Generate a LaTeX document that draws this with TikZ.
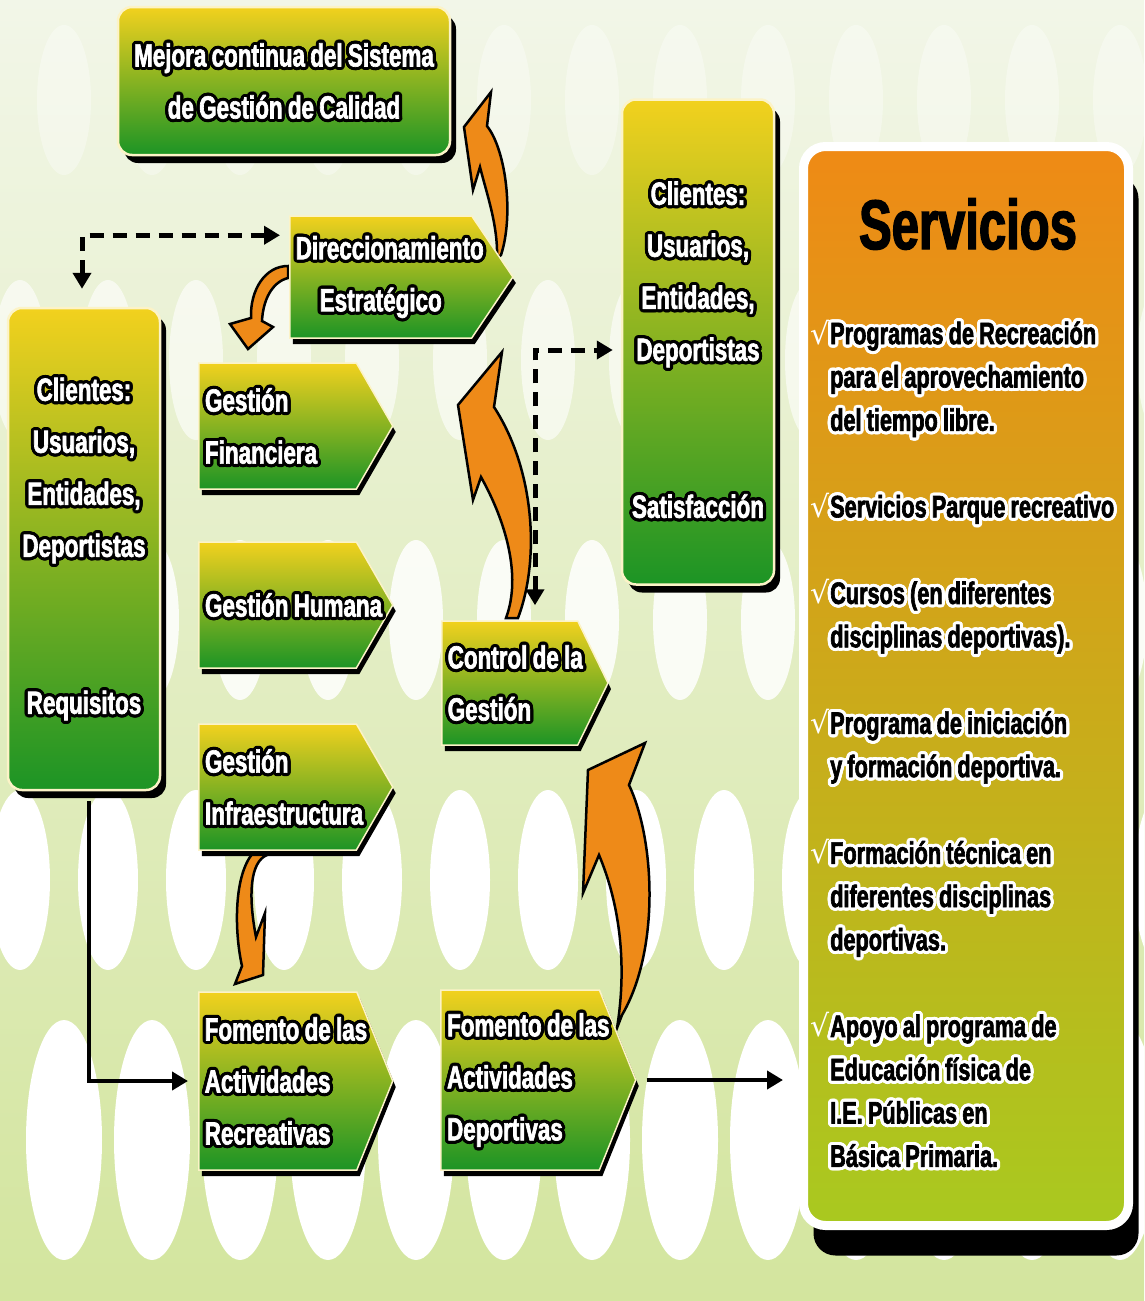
\documentclass[tikz,border=0pt]{standalone}
\usepackage{fontspec}
\usepackage{tikz}
\usetikzlibrary{arrows.meta}
\usetikzlibrary{calc}
\usetikzlibrary{shapes.symbols}
\usetikzlibrary{shadows}

\newfontfamily\cnd[FakeStretch=0.7,FakeBold=2,WordSpace=0.85]{Liberation Sans Bold}
\newfontfamily\chkfont{DejaVu Sans}

\definecolor{bgtop}{HTML}{F2F6E8}
\definecolor{bgmid}{HTML}{E3EDC6}
\definecolor{bgbot}{HTML}{D3E59E}
\definecolor{boxyel}{HTML}{F2D11E}
\definecolor{boxgrn}{HTML}{1C9425}
\definecolor{arrowor}{HTML}{EE8A18}
\definecolor{srvtop}{HTML}{EF8A15}
\definecolor{srvbot}{HTML}{A9C91F}

\newcommand{\boxfont}{\cnd\fontsize{32}{52}\selectfont}
\newcommand{\listfont}{\cnd\fontsize{31}{43.3}\selectfont}
\newcommand{\titlefont}{\cnd\fontsize{70}{70}\selectfont}

% outlined text: #1 outline, #2 fill, #3 text
\newcommand{\outl}[3]{\leavevmode\hbox{\spaceskip=0pt\xspaceskip=0pt\color{#1}%
  \foreach \ang in {0,22.5,...,337.5}{\rlap{\kern\fpeval{3.2*cosd(\ang)}pt\raisebox{\fpeval{3.2*sind(\ang)}pt}{#3}}}%
  \foreach \ang in {11.25,56.25,...,326.25}{\rlap{\kern\fpeval{1.8*cosd(\ang)}pt\raisebox{\fpeval{1.8*sind(\ang)}pt}{#3}}}%
  \textcolor{#2}{#3}}}
\newcommand{\wl}[1]{\outl{black}{white}{#1}}
\newcommand{\bl}[1]{\outl{white}{black}{#1}}
\newcommand{\chk}{\llap{{\chkfont\fontsize{30}{30}\selectfont\color{white}√}\kern1pt}}

\tikzset{
greenbox/.style={rectangle, rounded corners=14pt, top color=boxyel, bottom color=boxgrn,
  draw=white!75!boxyel, line width=2.5pt, text=white, font=\boxfont, align=center,
  drop shadow={shadow xshift=6pt, shadow yshift=-8pt, fill=black, opacity=1}},
greensig/.style={signal, signal to=east, top color=boxyel, bottom color=boxgrn,
  draw=white!75!boxyel, line width=1.5pt, text=white, font=\boxfont, align=left, inner xsep=6pt,
  drop shadow={shadow xshift=3pt, shadow yshift=-6pt, fill=black, opacity=1}},
orarrow/.style={fill=arrowor, draw=black, line width=2.5pt, line join=miter},
dashline/.style={line width=5pt, dash pattern=on 14pt off 9pt,
  {Triangle[length=16pt,width=18pt]}-{Triangle[length=16pt,width=18pt]}},
solidline/.style={line width=4.5pt, -{Triangle[length=16pt,width=18pt]}},
}

\begin{document}
\begin{tikzpicture}[x=1pt, y=-1pt]

                \useasboundingbox (0,0) rectangle (1144,1301);
                \shade[top color=bgtop, middle color=bgmid, bottom color=bgbot] (0,0) rectangle (1144,1301);

                % background pattern
                \begin{scope}
                \clip (0,0) rectangle (1144,1301);
                \foreach \yc/\rx/\ry/\op [count=\r] in {100/27/75/0.35, 360/27/80/0.6, 620/27/80/0.85, 880/30/90/1, 1140/38/120/1}{
                    \foreach \k in {0,...,13}{
                        \fill[white, opacity=\op] ({20+88*\k+mod(\r,2)*44},\yc) ellipse [x radius=\rx, y radius=\ry];
                    }
                }
                \end{scope}

                % orange arrows
                \path[orarrow] (497,258) .. controls (498,225) and (487,195) .. (480,167) -- (473,190) -- (464,127) -- (491,92) -- (487,126) .. controls (506,150) and (514,215) .. (501,255) -- cycle;
                \path[orarrow] (288,266) .. controls (265,266) and (250,290) .. (251,318) -- (230,324) -- (248,349) -- (273,327) -- (262,321) .. controls (263,300) and (272,282) .. (288,278) -- cycle;
                \path[orarrow] (506,618) .. controls (522,575) and (505,520) .. (481,477) -- (473,500) -- (458,405) -- (502,352) -- (494,407) .. controls (535,470) and (540,560) .. (518,618) -- cycle;
                \path[orarrow] (267,855) .. controls (250,862) and (248,895) .. (256,937) -- (265,913) -- (263,975) -- (235,984) -- (242,966) .. controls (234,930) and (234,875) .. (253,853) -- cycle;
                \path[orarrow] (617,1028) .. controls (628,960) and (618,900) .. (599,855) -- (583,893) -- (588,770) -- (645,743) -- (629,785) .. controls (655,840) and (660,950) .. (622,1015) -- cycle;

                % boxes
                \node[greenbox, minimum width=332pt, minimum height=148pt] (mej) at (284,81)
                    {\wl{Mejora continua del Sistema}\\ \wl{de Gestión de Calidad}};
                \node[greenbox, minimum width=152pt, minimum height=482pt] (lcli) at (84,549)
                    {\wl{Clientes:}\\ \wl{Usuarios,}\\ \wl{Entidades,}\\ \wl{Deportistas}\\[105pt] \wl{Requisitos}};
                \node[greenbox, minimum width=152pt, minimum height=485pt] (rcli) at (698,342)
                    {\rule{0pt}{42pt}\wl{Clientes:}\\ \wl{Usuarios,}\\ \wl{Entidades,}\\ \wl{Deportistas}\\[105pt] \wl{Satisfacción}};

                \node[greensig, align=center, signal pointer angle=112, text width=170pt, minimum width=223pt, minimum height=122pt, anchor=west] (dir) at (289,277)
                    {\wl{Direccionamiento}\\ \wl{Estratégico}};
                \node[greensig, signal pointer angle=120, text width=145pt, minimum width=194pt, minimum height=126pt, anchor=west] (fin) at (198,426)
                    {\wl{Gestión}\\ \wl{Financiera}};
                \node[greensig, signal pointer angle=120, text width=145pt, minimum width=194pt, minimum height=126pt, anchor=west] (hum) at (198,605)
                    {\wl{Gestión Humana}};
                \node[greensig, signal pointer angle=120, text width=145pt, minimum width=194pt, minimum height=126pt, anchor=west] (inf) at (198,787)
                    {\wl{Gestión}\\ \wl{Infraestructura}};
                \node[greensig, signal pointer angle=128, text width=124pt, minimum width=166pt, minimum height=124pt, anchor=west] (ctrl) at (441,683)
                    {\wl{Control de la}\\ \wl{Gestión}};
                \node[greensig, signal pointer angle=136, text width=146pt, minimum width=194pt, minimum height=178pt, anchor=west] (frec) at (198,1081)
                    {\wl{Fomento de las}\\ \wl{Actividades}\\ \wl{Recreativas}};
                \node[greensig, signal pointer angle=136, text width=146pt, minimum width=195pt, minimum height=180pt, anchor=west] (fdep) at (440,1080)
                    {\wl{Fomento de las}\\ \wl{Actividades}\\ \wl{Deportivas}};

                % servicios
                \node[rectangle, rounded corners=22pt, top color=srvtop, bottom color=srvbot, draw=white, line width=9pt,
                    minimum width=325pt, minimum height=1079pt,
                    drop shadow={shadow xshift=10pt, shadow yshift=-30pt, fill=black, opacity=1}] (srv) at (966,686) {};
                \node[font=\titlefont] (srvt) at (968,224) {Servicios};
                \node[font=\listfont, align=left, inner sep=0pt, anchor=north west] (srvl) at (830,318)
                    {\chk\bl{Programas de Recreación}\\
                     \bl{para el aprovechamiento}\\
                     \bl{del tiempo libre.}\\[43.3pt]
                     \chk\bl{Servicios Parque recreativo}\\[43.3pt]
                     \chk\bl{Cursos (en diferentes}\\
                     \bl{disciplinas deportivas).}\\[43.3pt]
                     \chk\bl{Programa de iniciación}\\
                     \bl{y formación deportiva.}\\[43.3pt]
                     \chk\bl{Formación técnica en}\\
                     \bl{diferentes disciplinas}\\
                     \bl{deportivas.}\\[43.3pt]
                     \chk\bl{Apoyo al programa de}\\
                     \bl{Educación física de}\\
                     \bl{I.E. Públicas en}\\
                     \bl{Básica Primaria.}};

                % connectors
                \draw[dashline] ($(lcli.north)+(-2,-18)$) |- ($(dir.north west)+(-9,20)$);
                \draw[dashline] ($(ctrl.north west)+(94,-15)$) |- ($(rcli.west)+(-8,8)$);
                \draw[solidline] ($(lcli.south)+(5,10)$) |- ($(frec.west)+(-10,0)$);
                \draw[solidline] ($(fdep.east)+(10,0)$) -- ($(fdep.east -| srv.west)+(-16,0)$);

\end{tikzpicture}
\end{document}
